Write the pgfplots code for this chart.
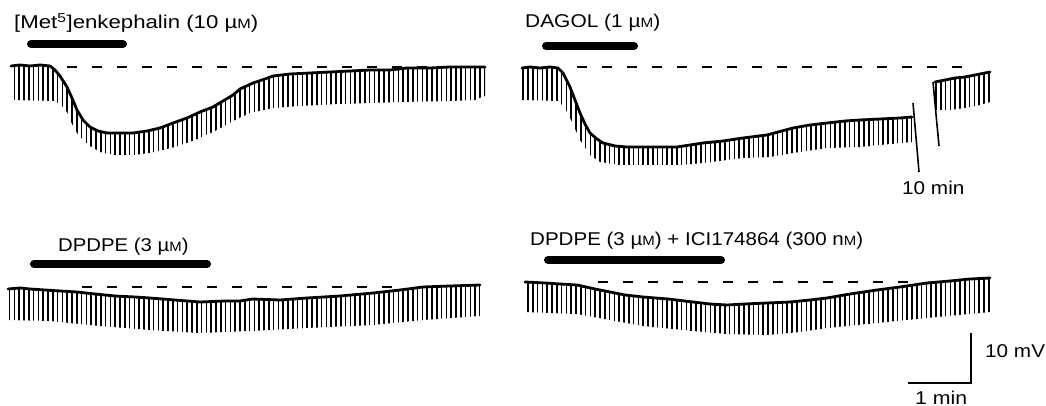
\documentclass[border=0pt]{standalone}
\usepackage{pgfplots}
\pgfplotsset{compat=1.18}
\usepackage{fontspec}
\setmainfont{Liberation Sans}
\usetikzlibrary{patterns.meta}
\newcommand{\sm}{{\fontsize{13.5}{13.5}\selectfont M}}
\tikzset{
  spikes/.style={draw=none, pattern={Lines[angle=90,distance=4.8pt,line width=1.6pt]}},
  trace/.style={black, line width=2.8pt, line join=round, line cap=round},
  base/.style={black, line width=1.8pt, dash pattern=on 10pt off 15pt},
  drug/.style={black, line width=8pt, line cap=round},
  lbl/.style={anchor=base west, inner sep=0pt, font=\fontsize{18.5}{22}\selectfont},
}
\begin{document}
\begin{tikzpicture}
\begin{axis}[
  width=1046pt, height=406pt, scale only axis,
  xmin=0, xmax=1046, ymin=0, ymax=406, y dir=reverse,
  hide axis, clip=false,
]
% ---------- Panel 1: [Met5]enkephalin ----------
\addplot[spikes] coordinates {
(11,66)(20,65)(30,66)(40,65)(50,66)(55,70)(60,76)(67,87)(72,98)(77,110)(83,120)(90,127)(98,131)(107,133)(120,133)(133,133)(147,131)(160,128)(173,123)(187,118)(200,112)(213,107)(223,101)(233,95)(240,89)(253,83)(265,79)(273,76)(290,74)(310,73)(330,72)(350,71)(370,70)(390,70)(407,68)(430,68)(450,67)(470,67)(485,67)
(485,96)(475,100)(450,101)(400,102)(340,104)(300,106)(273,108)(250,113)(235,120)(215,131)(195,140)(175,147)(155,152)(135,155)(115,155)(100,152)(90,146)(83,140)(77,133)(72,124)(67,112)(62,106)(55,101)(11,100)};
\addplot[trace] coordinates {
(11,66)(20,65)(30,66)(40,65)(50,66)(55,70)(60,76)(67,87)(72,98)(77,110)(83,120)(90,127)(98,131)(107,133)(120,133)(133,133)(147,131)(160,128)(173,123)(187,118)(200,112)(213,107)(223,101)(233,95)(240,89)(253,83)(265,79)(273,76)(290,74)(310,73)(330,72)(350,71)(370,70)(390,70)(407,68)(430,68)(450,67)(470,67)(485,67)};
\addplot[base] coordinates {(67,67)(487,67)};
\addplot[drug] coordinates {(31,44)(123,44)};
\node[lbl] at (axis cs:14,29) {\scalebox{1.2}[1]{[Met\textsuperscript{5}]enkephalin (10 µ\sm)}};
% ---------- Panel 2: DAGOL ----------
\addplot[spikes] coordinates {
(522,68)(530,67)(540,68)(550,67)(558,68)(563,73)(570,87)(575,100)(580,113)(585,124)(590,133)(597,139)(603,143)(615,146)(627,147)(650,147)(677,147)(703,143)(723,141)(743,138)(767,135)(793,128)(810,125)(827,123)(845,121)(860,120)(880,119)(900,118)(912,117)
(912,142)(880,145)(860,147)(827,148)(793,153)(770,157)(743,158)(703,163)(680,165)(620,165)(600,162)(590,155)(580,140)(572,122)(565,108)(558,101)(522,100)};
\addplot[trace] coordinates {
(522,68)(530,67)(540,68)(550,67)(558,68)(563,73)(570,87)(575,100)(580,113)(585,124)(590,133)(597,139)(603,143)(615,146)(627,147)(650,147)(677,147)(703,143)(723,141)(743,138)(767,135)(793,128)(810,125)(827,123)(845,121)(860,120)(880,119)(900,118)(912,117)};
\addplot[black, line width=1.6pt] coordinates {(913,103)(919,172)};
\addplot[black, line width=1.6pt] coordinates {(933,82)(939,146)};
\addplot[spikes] coordinates {
(935,82)(945,80)(955,78)(965,77)(975,75)(985,73)(990,72)
(990,102)(980,105)(965,108)(950,110)(935,110)};
\addplot[trace] coordinates {(935,82)(945,80)(955,78)(965,77)(975,75)(985,73)(990,72)};
\addplot[base] coordinates {(577,67)(975,67)};
\addplot[drug] coordinates {(546,46)(634,46)};
\node[lbl] at (axis cs:525,27.5) {\scalebox{1.13}[1]{DAGOL (1 µ\sm)}};
\node[lbl] at (axis cs:902,195) {\scalebox{1.12}[1]{10 min}};
% ---------- Panel 3: DPDPE ----------
\addplot[spikes] coordinates {
(8,289)(20,288)(30,289)(45,290)(60,291)(77,292)(95,294)(115,296)(135,297)(150,298)(175,300)(200,302)(225,301)(240,301)(253,299)(280,300)(307,298)(340,296)(373,293)(400,290)(423,287)(450,286)(480,285)
(480,316)(423,320)(373,325)(307,328)(250,331)(200,333)(150,330)(100,326)(50,321)(8,320)};
\addplot[trace] coordinates {
(8,289)(20,288)(30,289)(45,290)(60,291)(77,292)(95,294)(115,296)(135,297)(150,298)(175,300)(200,302)(225,301)(240,301)(253,299)(280,300)(307,298)(340,296)(373,293)(400,290)(423,287)(450,286)(480,285)};
\addplot[base] coordinates {(82,287)(400,287)};
\addplot[drug] coordinates {(34,264)(207,264)};
\node[lbl] at (axis cs:58,251) {\scalebox{1.1}[1]{DPDPE (3 µ\sm)}};
% ---------- Panel 4: DPDPE + ICI174864 ----------
\addplot[spikes] coordinates {
(525,282)(545,283)(560,284)(577,285)(595,289)(610,292)(625,295)(643,297)(668,299)(693,302)(710,304)(727,305)(745,304)(767,303)(790,302)(810,300)(827,298)(850,294)(877,290)(900,287)(927,283)(950,281)(970,279)(990,278)
(990,312)(927,318)(877,323)(827,328)(800,332)(767,335)(727,334)(693,331)(643,326)(610,320)(577,314)(525,312)};
\addplot[trace] coordinates {
(525,282)(545,283)(560,284)(577,285)(595,289)(610,292)(625,295)(643,297)(668,299)(693,302)(710,304)(727,305)(745,304)(767,303)(790,302)(810,300)(827,298)(850,294)(877,290)(900,287)(927,283)(950,281)(970,279)(990,278)};
\addplot[base] coordinates {(598,282)(917,282)};
\addplot[drug] coordinates {(548,260)(721,260)};
\node[lbl] at (axis cs:530,245.5) {\scalebox{1.11}[1]{DPDPE (3 µ\sm) + ICI174864 (300 n\sm)}};
% ---------- Scale bar ----------
\addplot[black, line width=1.8pt] coordinates {(971,333)(971,383)(908,383)};
\node[lbl] at (axis cs:985,357) {\scalebox{1.12}[1]{10 mV}};
\node[lbl] at (axis cs:915,404) {\scalebox{1.15}[1]{1 min}};
\end{axis}
\pgfresetboundingbox
\useasboundingbox (current axis.south west) rectangle (current axis.north east);
\end{tikzpicture}
\end{document}
